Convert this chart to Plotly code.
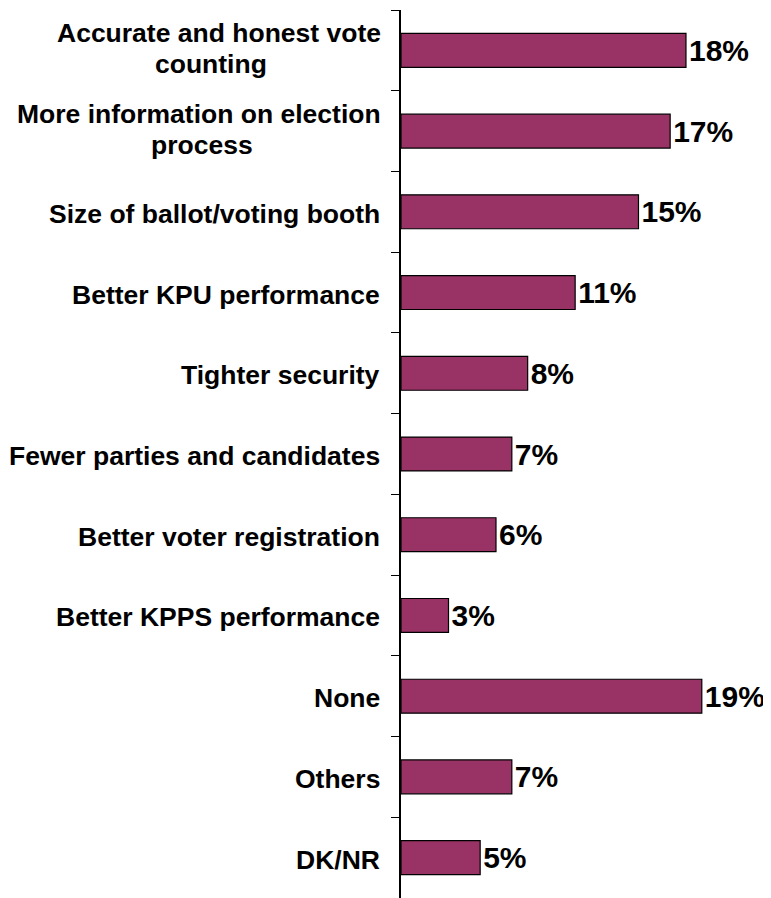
import plotly.graph_objects as go

categories = [
    "Accurate and honest vote counting",
    "More information on election process",
    "Size of ballot/voting booth",
    "Better KPU performance",
    "Tighter security",
    "Fewer parties and candidates",
    "Better voter registration",
    "Better KPPS performance",
    "None",
    "Others",
    "DK/NR",
]
label_lines = [
    ["Accurate and honest vote", "counting"],
    ["More information on election", "process"],
    ["Size of ballot/voting booth"],
    ["Better KPU performance"],
    ["Tighter security"],
    ["Fewer parties and candidates"],
    ["Better voter registration"],
    ["Better KPPS performance"],
    ["None"],
    ["Others"],
    ["DK/NR"],
]
values = [18, 17, 15, 11, 8, 7, 6, 3, 19, 7, 5]
value_labels = [f"{v}%" for v in values]

FONT = "Liberation Sans, Arial, sans-serif"
LABEL_SIZE = 26.5
VALUE_SIZE = 30
GAP = -19            # label offset from axis line (px)
LINE_STEP = 31       # distance between two label lines (px)
SECOND_LINE_CENTER = {0: -190, 1: -199}  # horizontal centre of wrapped line (px from axis)

fig = go.Figure(
    go.Bar(
        y=categories,
        x=values,
        orientation="h",
        width=0.42,
        marker=dict(color="#993366", line=dict(color="black", width=1.2)),
        text=value_labels,
        textposition="outside",
        textfont=dict(family=FONT, size=VALUE_SIZE, color="black", weight="bold"),
        cliponaxis=False,
    )
)

lab_font = dict(family=FONT, size=LABEL_SIZE, color="black", weight="bold")
for i, (c, lines) in enumerate(zip(categories, label_lines)):
    if len(lines) == 1:
        fig.add_annotation(x=0, y=c, xref="x", yref="y", text=lines[0],
                           showarrow=False, xanchor="right", yanchor="middle",
                           xshift=GAP, yshift=-2, font=lab_font)
    else:
        fig.add_annotation(x=0, y=c, xref="x", yref="y", text=lines[0],
                           showarrow=False, xanchor="right", yanchor="middle",
                           xshift=GAP, yshift=LINE_STEP / 2 + 2, font=lab_font,
                           borderpad=0)
        fig.add_annotation(x=0, y=c, xref="x", yref="y", text=lines[1],
                           showarrow=False, xanchor="center", yanchor="middle",
                           xshift=SECOND_LINE_CENTER[i], yshift=-LINE_STEP / 2 + 2,
                           font=lab_font, borderpad=0)

fig.update_layout(
    width=763, height=890,
    margin=dict(l=393, r=0, t=2, b=0),
    plot_bgcolor="white", paper_bgcolor="white",
    showlegend=False,
)
fig.update_xaxes(range=[0, 23.37], visible=False)
fig.update_yaxes(
    autorange="reversed",
    showticklabels=False,
    showline=True, linecolor="black", linewidth=1.5,
    ticks="outside", ticklen=8, tickcolor="black", tickwidth=1.2,
    tickson="boundaries",
    showgrid=False, zeroline=False,
)

fig.write_html("out.html")
